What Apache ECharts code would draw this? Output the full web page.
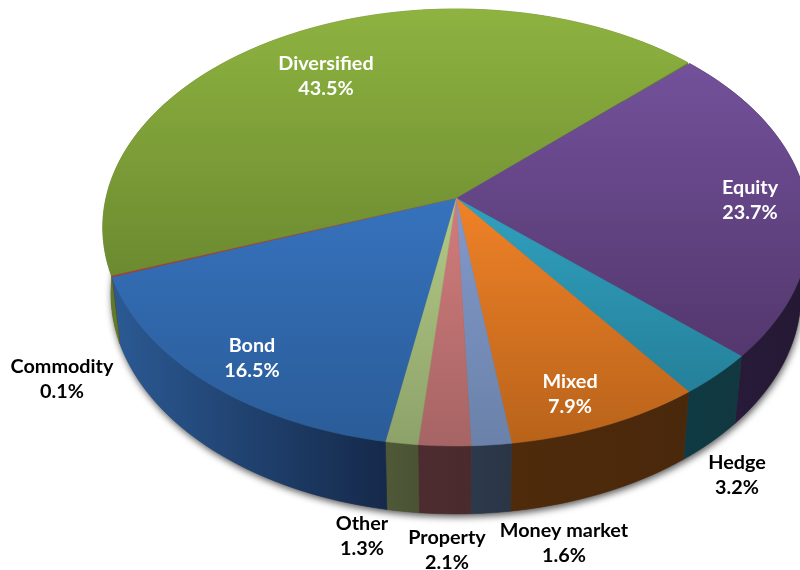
<!DOCTYPE html>
<html>
<head>
<meta charset="utf-8">
<title>Fund mix</title>
<style>
  html, body { margin: 0; padding: 0; background: #fff; }
  #pie { width: 800px; height: 570px; }
</style>
<script src="https://cdn.jsdelivr.net/npm/echarts@6/dist/echarts.min.js"></script>
</head>
<body>
<div id="pie"></div>
<script>
// slices, clockwise from the Equity / Diversified edge
var categories = ['Equity', 'Hedge', 'Mixed', 'Money market', 'Property', 'Other', 'Bond', 'Commodity', 'Diversified'];
var shares = [23.7, 3.2, 7.9, 1.6, 2.1, 1.3, 16.5, 0.1, 43.5];

// top face gradient, side gradient
var topColors = [
    ['#73519b', '#53376d'], ['#30a1bf', '#25809a'], ['#f08228', '#b8631a'],
    ['#8399cc', '#6a82a9'], ['#d27c7c', '#a66464'], ['#b3ca86', '#8da269'],
    ['#3672bd', '#2a5c98'], ['#a83c30', '#a83c30'], ['#8eb340', '#6c8a30']
];
var sideColors = [
    ['#2a1d3e', '#241833'], ['#0e3a44', '#123840'], ['#4f2b0c', '#4a280b'],
    ['#2d3a4d', '#2a3545'], ['#4d2c2f', '#4a2b2d'], ['#4f5938', '#4a5434'],
    ['#2b5a94', '#15294a'], ['#7a2a22', '#7a2a22'], ['#5f7c28', '#5f7c28']
];
var labelColors = ['#fff', '#000', '#fff', '#000', '#000', '#000', '#fff', '#000', '#fff'];
var labelCenters = [[750, 200], [737, 475], [570, 394], [564, 543], [447, 550], [362, 536], [252, 358], [62, 379], [326, 76]];

// fake perspective: the disc is drawn through a simple projection
var CX = 456, CY = 198, RX = 350, RY = 214.5, TILT = 0.135;
var START_ANGLE = -43.2;
var DEPTH = 66;

function project(deg) {
    var a = deg * Math.PI / 180;
    var u = Math.cos(a), v = Math.sin(a);
    var w = 1 - TILT * v;
    return [RX * u / w, RY * v / w];
}

function arc(from, to) {
    var pts = [];
    var n = Math.max(2, Math.ceil((to - from) / 1.5));
    for (var i = 0; i <= n; i++) {
        var p = project(from + (to - from) * i / n);
        pts.push([CX + p[0], CY + p[1]]);
    }
    return pts;
}

function lower(pt) {
    return [CX + (pt[0] - CX) * 0.977, CY + (pt[1] - CY) * 1.008 + DEPTH];
}

function sliceAngles(index) {
    var before = 0;
    for (var i = 0; i < index; i++) {
        before += shares[i];
    }
    return [START_ANGLE + before * 3.6, START_ANGLE + (before + shares[index]) * 3.6];
}

function gradient(colors, horizontal) {
    return new echarts.graphic.LinearGradient(0, 0, horizontal ? 1 : 0, horizontal ? 0 : 1, [
        { offset: 0, color: colors[0] },
        { offset: 1, color: colors[1] }
    ]);
}

function renderShadow() {
    return {
        type: 'polygon',
        shape: { points: arc(0, 360).map(lower) },
        style: { fill: '#555', shadowBlur: 7, shadowColor: 'rgba(0,0,0,0.65)', shadowOffsetX: 1, shadowOffsetY: 3 }
    };
}

function renderSide(params) {
    var i = params.dataIndex;
    var ang = sliceAngles(i);
    var rim = arc(ang[0], ang[1]);
    var fill = gradient(sideColors[i], true);
    return {
        type: 'polygon',
        shape: { points: rim.concat(rim.map(lower).reverse()) },
        style: { fill: fill, stroke: fill, lineWidth: 0.5 }
    };
}

function renderTop(params) {
    var i = params.dataIndex;
    var ang = sliceAngles(i);
    var fill = gradient(topColors[i], false);
    return {
        type: 'polygon',
        shape: { points: [[CX, CY]].concat(arc(ang[0], ang[1])) },
        style: { fill: fill, stroke: fill, lineWidth: 0.5 }
    };
}

function renderLabel(params, api) {
    var i = params.dataIndex;
    return {
        type: 'text',
        x: labelCenters[i][0],
        y: labelCenters[i][1],
        style: {
            text: categories[i] + '\n' + api.value(0).toFixed(1) + '%',
            fill: labelColors[i],
            font: 'bold 19.8px Lato, "Open Sans", sans-serif',
            lineHeight: 25,
            align: 'center',
            verticalAlign: 'middle'
        }
    };
}

var chart = echarts.init(document.getElementById('pie'), null, { renderer: 'canvas' });
chart.setOption({
    animation: false,
    backgroundColor: '#fff',
    series: [
        { type: 'custom', coordinateSystem: 'none', silent: true, data: [1], renderItem: renderShadow },
        { type: 'custom', coordinateSystem: 'none', silent: true, data: shares, renderItem: renderSide },
        { type: 'custom', coordinateSystem: 'none', silent: true, data: shares, renderItem: renderTop },
        { type: 'custom', coordinateSystem: 'none', silent: true, data: shares, renderItem: renderLabel }
    ]
});
</script>
</body>
</html>
